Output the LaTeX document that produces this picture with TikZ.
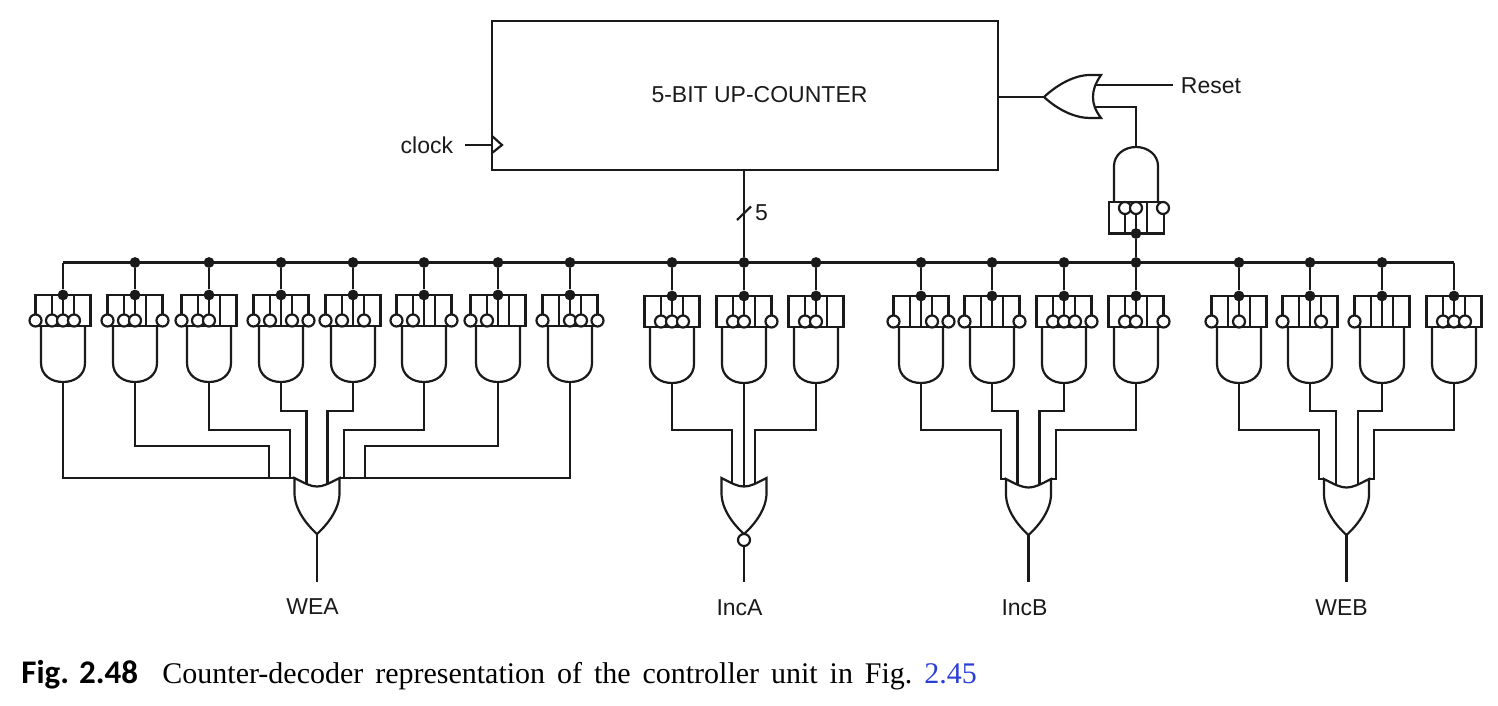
\documentclass[tikz,border=0pt]{standalone}
\usepackage{fontspec}
\setmainfont{Liberation Sans}
\newfontfamily\capserif{Liberation Serif}
\newfontfamily\capbold{Carlito}
\definecolor{ink}{HTML}{1A1A1A}
\definecolor{linkblue}{HTML}{2A3FD8}
\newcommand{\offA}{-27.5}
\newcommand{\offB}{-11}
\newcommand{\offC}{0}
\newcommand{\offD}{11}
\newcommand{\offE}{27.5}
\tikzset{
  wire/.style={draw=ink,line width=1.1pt,line join=miter},
  bubble/.style={circle,draw=ink,fill=white,line width=1.1pt,minimum size=6pt,inner sep=0pt},
  jdot/.style={circle,fill=ink,minimum size=5.4pt,inner sep=0pt},
  lbl/.style={text=ink,font=\fontsize{11.5}{13}\selectfont,inner sep=0pt},
}
% OR-gate body in local coordinates (corners at y=0, apex at y=56)
\newcommand{\orbody}{(-22.5,0) .. controls (-11,6) and (-6,8.5) .. (0,8.5) .. controls (6,8.5) and (11,6) .. (22.5,0) -- (22.5,15) .. controls (22.5,31) and (11,46) .. (0,56) .. controls (-11,46) and (-22.5,31) .. (-22.5,15) -- cycle}
\begin{document}
\begin{tikzpicture}[x=0.5pt,y=-0.5pt]
\useasboundingbox (0,0) rectangle (1498,706);

% counter
\node[wire,draw,minimum width=253pt,minimum height=74.5pt,inner sep=0pt,outer sep=0pt,anchor=north west] (ctr) at (492,21) {};
\node[lbl] (ctrl) at (759.5,94.5) {5-BIT UP-COUNTER};
\node[lbl,anchor=east] (clk) at (453.5,145) {clock};
\coordinate (clkin) at (492,145);
\coordinate (clkfrom) at (465,145);
\draw[wire] (clkfrom) -- (clkin);
\draw[wire] (492,136) -- (502,145) -- (492,153);

% level lines
\coordinate (lv411) at (0,411);
\coordinate (lv430) at (0,430);
\coordinate (lv446) at (0,446);

% bus
\coordinate (busL) at (63,262.5);
\coordinate (busR) at (1454,262.5);
\draw[wire] (busL) -- (busR);

% decoder gates
\foreach \n/\x/\yo/\bubs in {
  1/63/0/{A,B,C,D},
  2/135/0/{A,B,C,E},
  3/209/0/{A,B,C},
  4/281/0/{A,B,D,E},
  5/353/0/{A,B,D},
  6/424/0/{A,B,E},
  7/498/0/{A,B},
  8/570/0/{A,C,D,E},
  9/672/1/{B,C,D},
  10/744/1/{B,C,E},
  11/816/1/{B,C},
  12/921/1/{A,D,E},
  13/992/1/{A,E},
  14/1064/1/{B,C,D,E},
  15/1136/1/{B,C,E},
  16/1239/1/{A,C},
  17/1310/1/{A,D},
  18/1382/1/{A},
  19/1454/1/{B,C,D}}{
  \begin{scope}[shift={(\x,\yo)}]
    \draw[wire] (-27.5,295) rectangle (27.5,326);
    \foreach \p in {-11,0,11} \draw[wire] (\p,295) -- (\p,326);
    \draw[wire] (-22,326) -- (-22,363) .. controls (-22,375) and (-12,382) .. (0,382) .. controls (12,382) and (22,375) .. (22,363) -- (22,326);
    \coordinate (g\n) at (0,382);
    \node[jdot] (t\n) at (0,295) {};
    \foreach \b in \bubs {
      \node[bubble] (g\n-\b) at (\csname off\b\endcsname,320.5) {};
    }
  \end{scope}
  \ifnum\n=1\relax\else\ifnum\n=19\relax\else
    \node[jdot] (b\n) at (t\n |- busL) {};
  \fi\fi
}
\draw[wire] (busL) -- (t1);
\draw[wire] (busR) -- (t19);
\foreach \n in {2,...,18} \draw[wire] (b\n) -- (t\n);

% OR gates
\foreach \nm/\x/\y in {wea/317/478,inca/744/478,incb/1028.5/479,web/1346.5/479}{
  \begin{scope}[shift={(\x,\y)}]
    \draw[wire] \orbody;
    \coordinate (\nm) at (0,0);
    \coordinate (\nm-out) at (0,56);
  \end{scope}
}
\coordinate (weaL) at (294.5,478);
\coordinate (weaR) at (339.5,478);
\coordinate (wea2) at (269,478);
\coordinate (wea3) at (290,478);
\coordinate (wea4) at (306.5,484);
\coordinate (wea5) at (327.5,484);
\coordinate (wea6) at (344,478);
\coordinate (wea7) at (365,478);
\draw[wire] (g1) |- (weaL);
\draw[wire] (g2) -- (g2 |- lv446) -| (wea2);
\draw[wire] (g3) -- (g3 |- lv430) -| (wea3);
\draw[wire] (g4) -- (g4 |- lv411) -| (wea4);
\draw[wire] (g5) -- (g5 |- lv411) -| (wea5);
\draw[wire] (g6) -- (g6 |- lv430) -| (wea6);
\draw[wire] (g7) -- (g7 |- lv446) -| (wea7);
\draw[wire] (g8) |- (weaR);

\coordinate (inca1) at (732,484);
\coordinate (inca2) at (744,486);
\coordinate (inca3) at (755,484);
\draw[wire] (g9) -- (g9 |- lv430) -| (inca1);
\draw[wire] (g10) -- (inca2);
\draw[wire] (g11) -- (g11 |- lv430) -| (inca3);

\coordinate (incb1) at (1001,479);
\coordinate (incb1e) at (1006,479);
\coordinate (incb2) at (1017.5,485);
\coordinate (incb3) at (1039.5,485);
\coordinate (incb4) at (1056,479);
\coordinate (incb4e) at (1051,479);
\draw[wire] (g12) -- (g12 |- lv430) -| (incb1) -- (incb1e);
\draw[wire] (g13) -- (g13 |- lv411) -| (incb2);
\draw[wire] (g14) -- (g14 |- lv411) -| (incb3);
\draw[wire] (g15) -- (g15 |- lv430) -| (incb4) -- (incb4e);

\coordinate (web1) at (1319,479);
\coordinate (web1e) at (1324,479);
\coordinate (web2) at (1336,485);
\coordinate (web3) at (1358,485);
\coordinate (web4) at (1374,479);
\coordinate (web4e) at (1369,479);
\draw[wire] (g16) -- (g16 |- lv430) -| (web1) -- (web1e);
\draw[wire] (g17) -- (g17 |- lv411) -| (web2);
\draw[wire] (g18) -- (g18 |- lv411) -| (web3);
\draw[wire] (g19) -- (g19 |- lv430) -| (web4) -- (web4e);

% outputs
\coordinate (weaEnd) at (317,582);
\coordinate (incaEnd) at (744,582);
\coordinate (incbEnd) at (1028.5,582);
\coordinate (webEnd) at (1346.5,582);
\node[bubble] (incaB) at (744,540) {};
\draw[wire] (wea-out) -- (weaEnd);
\draw[wire] (incaB) -- (incaEnd);
\draw[wire] (incb-out) -- (incbEnd);
\draw[wire] (web-out) -- (webEnd);
\node[lbl] (weaT) at (312.5,606.5) {WEA};
\node[lbl] (incaT) at (739.5,607.5) {IncA};
\node[lbl] (incbT) at (1024.5,607.5) {IncB};
\node[lbl] (webT) at (1341.5,607.5) {WEB};

% counter bus tap
\coordinate (ctrB) at (744,170);
\draw[wire] (ctrB) -- (b10);
\draw[wire] (737,220) -- (751,206.5);
\node[lbl] (five) at (761.5,213) {5};

% top-right logic
\coordinate (orIn1) at (1094.5,85);
\coordinate (orIn2) at (1094.5,107);
\coordinate (orOut) at (1044,97);
\coordinate (ctrR) at (998,97);
\coordinate (rstEnd) at (1173,85);
\draw[wire] (ctrR) -- (orOut);
\draw[wire] (orOut) .. controls (1058,84) and (1075,75) .. (1090,75) -- (1101,75) .. controls (1095,84) and (1093,90) .. (1093,97) .. controls (1093,104) and (1095,110) .. (1101,118) -- (1090,118) .. controls (1075,118) and (1058,110) .. cycle;
\draw[wire] (orIn1) -- (rstEnd);
\node[lbl,anchor=west] (rstT) at (1180.5,86) {Reset};
\coordinate (andTop) at (1136,147);
\draw[wire] (orIn2) -| (andTop);
\draw[wire] (1114,202) -- (1114,166) .. controls (1114,155) and (1124,147) .. (1136,147) .. controls (1148,147) and (1158,155) .. (1158,166) -- (1158,202);
\draw[wire] (1109,202) rectangle (1164,233.5);
\foreach \p in {1125,1136,1147} \draw[wire] (\p,202) -- (\p,233.5);
\foreach \p in {1125,1136,1163} \node[bubble] (r\p) at (\p,208) {};
\node[jdot] (rd) at (1136,233.5) {};
\draw[wire] (rd) -- (b15);

% caption
\node[anchor=base west,inner sep=0pt,text=black,font=\capbold\bfseries\fontsize{16.5}{18}\selectfont] (figA) at (21,683) {Fig. 2.48};
\node[anchor=base west,inner sep=0pt,text=black,font=\capserif\fontsize{15}{16}\selectfont] (figB) at (162,683) {\frenchspacing\spaceskip=5.95pt Counter-decoder representation of the controller unit in Fig. \textcolor{linkblue}{2.45}};
\end{tikzpicture}
\end{document}
